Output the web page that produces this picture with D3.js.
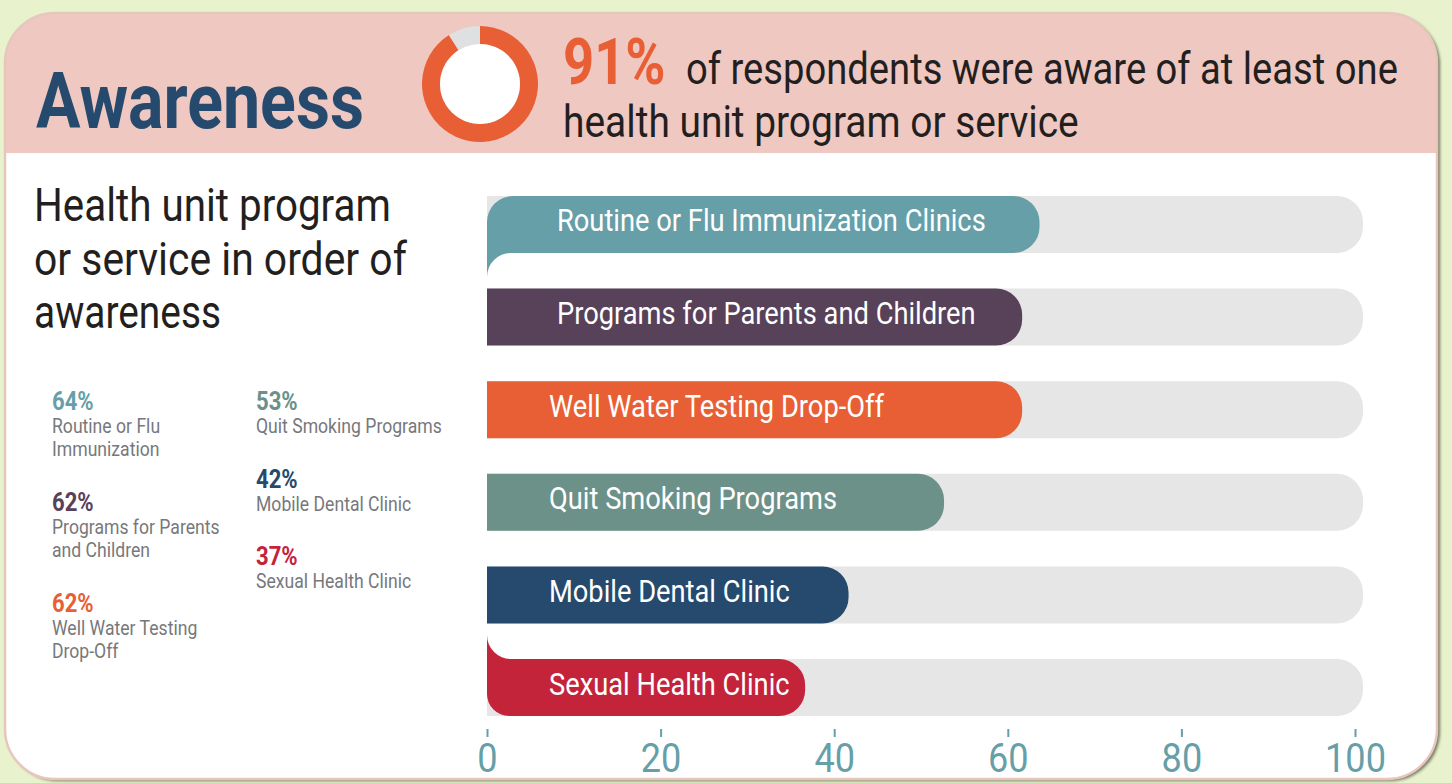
<!DOCTYPE html>
<html>
<head>
    <meta charset="utf-8">
    <title>Awareness</title>
    <script src="https://d3js.org/d3.v7.min.js"></script>
    <style>
        body { margin: 0; background: #e8f2cc; }
        svg { display: block; }
        text { font-family: Roboto, "Liberation Sans", sans-serif; }
    </style>
</head>
<body>
    <script>
        // chart data
        var categories = ["Routine or Flu Immunization Clinics", "Programs for Parents and Children",
            "Well Water Testing Drop-Off", "Quit Smoking Programs", "Mobile Dental Clinic", "Sexual Health Clinic"];
        var values = [64, 62, 62, 53, 42, 37];
        var colors = ["#669fa8", "#574259", "#e95f35", "#6b9188", "#264a6e", "#c4243a"];
        var legendLabels = [["Routine or Flu", "Immunization"], ["Programs for Parents", "and Children"],
            ["Well Water Testing", "Drop-Off"], ["Quit Smoking Programs"], ["Mobile Dental Clinic"], ["Sexual Health Clinic"]];
        var subtitleLines = ["Health unit program", "or service in order of", "awareness"];
        var headlineLines = ["of respondents were aware of at least one", "health unit program or service"];
        var tickValues = [0, 20, 40, 60, 80, 100];
        var awareShare = [91, 9];

        var W = 1452, H = 783;
        var svg = d3.select("body").append("svg")
            .attr("width", W)
            .attr("height", H);

        // the original uses a condensed face; squeeze Roboto horizontally instead
        function measure(str, size, weight) {
            var t = svg.append("text").attr("font-size", size).attr("font-weight", weight).text(str);
            var w = t.node().getComputedTextLength();
            t.remove();
            return w;
        }
        var kBold = 328 / measure("Awareness", 78, "bold");
        var kReg = 429 / measure(categories[0], 31, "normal");

        function squeeze(node, k) {
            var t = d3.select(node);
            var x0 = +t.attr("x") || 0, y0 = +t.attr("y") || 0;
            t.attr("x", null).attr("y", null)
                .attr("transform", "translate(" + x0 + "," + y0 + ") scale(" + k + ",1)");
        }
        function condense(sel, k) {
            sel.each(function() { squeeze(this, k); });
        }
        function fitTo(sel, widths) {
            sel.each(function(d, i) { squeeze(this, widths[i] / this.getComputedTextLength()); });
        }

        var defs = svg.append("defs");
        var shadow = defs.append("filter").attr("id", "shadow")
            .attr("x", "-5%").attr("y", "-5%").attr("width", "110%").attr("height", "110%");
        shadow.append("feDropShadow")
            .attr("dx", 3).attr("dy", 2).attr("stdDeviation", 1.5)
            .attr("flood-color", "#6b6b55").attr("flood-opacity", 0.9);

        defs.append("clipPath").attr("id", "cardClip")
            .append("rect")
            .attr("x", 5).attr("y", 13).attr("width", 1432).attr("height", 766).attr("rx", 50);

        // card
        svg.append("rect")
            .attr("x", 5).attr("y", 13).attr("width", 1432).attr("height", 766).attr("rx", 50)
            .attr("fill", "#fff")
            .attr("filter", "url(#shadow)");
        svg.append("rect")
            .attr("clip-path", "url(#cardClip)")
            .attr("x", 0).attr("y", 0).attr("width", W).attr("height", 153)
            .attr("fill", "#efc8c1");
        svg.append("rect")
            .attr("x", 5).attr("y", 13).attr("width", 1432).attr("height", 766).attr("rx", 50)
            .attr("fill", "none")
            .attr("stroke", "#e6c6bd")
            .attr("stroke-width", 2.5);

        // header
        svg.append("text")
            .attr("x", 36).attr("y", 128)
            .attr("font-size", 78)
            .attr("font-weight", "bold")
            .attr("fill", "#264a6e")
            .text("Awareness")
            .call(condense, kBold);

        var pie = d3.pie().sort(null).value(function(d) { return d; });
        var arc = d3.arc().innerRadius(40).outerRadius(58);
        svg.append("g")
            .attr("transform", "translate(480,84)")
            .selectAll("path")
            .data(pie(awareShare))
            .enter()
            .append("path")
            .attr("d", arc)
            .attr("fill", function(d, i) { return i === 0 ? "#e95f35" : "#dfe0e1"; });
        svg.append("circle").attr("cx", 480).attr("cy", 84).attr("r", 40).attr("fill", "#fff");

        svg.append("text")
            .attr("x", 563).attr("y", 84)
            .attr("font-size", 64)
            .attr("font-weight", "bold")
            .attr("fill", "#e95f35")
            .text(awareShare[0] + "%")
            .call(condense, kBold);
        svg.selectAll(".headline")
            .data(headlineLines)
            .enter()
            .append("text")
            .attr("class", "headline")
            .attr("x", function(d, i) { return i === 0 ? 686 : 563; })
            .attr("y", function(d, i) { return 84 + i * 53; })
            .attr("fill", "#231f20")
            .attr("font-size", 44)
            .text(function(d) { return d; })
            .call(fitTo, [712, 516]);

        // subtitle
        svg.selectAll(".subtitle")
            .data(subtitleLines)
            .enter()
            .append("text")
            .attr("class", "subtitle")
            .attr("x", 34)
            .attr("y", function(d, i) { return 221 + i * 53.5; })
            .attr("fill", "#231f20")
            .attr("font-size", 47)
            .text(function(d) { return d; })
            .call(fitTo, [357, 373, 187]);

        // legend
        var legend = svg.selectAll(".legend")
            .data(values)
            .enter()
            .append("g")
            .attr("class", "legend")
            .attr("transform", function(d, i) {
                return i < 3 ? "translate(52," + (410 + i * 101) + ")"
                             : "translate(256," + (410 + (i - 3) * 77.5) + ")";
            });
        legend.append("text")
            .attr("font-size", 26)
            .attr("font-weight", "bold")
            .attr("fill", function(d, i) { return colors[i]; })
            .text(function(d) { return d + "%"; })
            .call(condense, kBold);
        legend.each(function(d, i) {
            d3.select(this).selectAll(".lab")
                .data(legendLabels[i])
                .enter()
                .append("text")
                .attr("class", "lab")
                .attr("y", function(t, j) { return 23 + j * 23; })
                .attr("font-size", 20)
                .attr("fill", "#77787b")
                .text(function(t) { return t; })
                .call(condense, kReg);
        });

        // bars
        var x = d3.scaleLinear().domain([0, 100]).range([487, 1355]);
        var y = d3.scaleBand().domain(categories).range([196, 716]).paddingInner(0.385).paddingOuter(0);
        var r = 26;

        function roundedEnd(x0, x1, y0, y1) {
            return "M" + x0 + "," + y0 + "H" + (x1 - r) +
                "A" + r + "," + r + " 0 0 1 " + x1 + "," + (y0 + r) +
                "V" + (y1 - r) +
                "A" + r + "," + r + " 0 0 1 " + (x1 - r) + "," + y1 +
                "H" + x0 + "Z";
        }

        function barPath(d, i) {
            var x0 = x(0), x1 = x(d) - 3, y0 = y(categories[i]), y1 = y0 + y.bandwidth();
            var c = 24;
            if (i === 0) {
                // rounded top-left with tail below
                return "M" + x0 + "," + (y0 + r) +
                    "A" + r + "," + r + " 0 0 1 " + (x0 + r) + "," + y0 +
                    "H" + (x1 - r) +
                    "A" + r + "," + r + " 0 0 1 " + x1 + "," + (y0 + r) +
                    "V" + (y1 - r) +
                    "A" + r + "," + r + " 0 0 1 " + (x1 - r) + "," + y1 +
                    "H" + (x0 + c) +
                    "A" + c + "," + c + " 0 0 0 " + x0 + "," + (y1 + c) + "Z";
            }
            if (i === categories.length - 1) {
                // tail above with rounded bottom-left
                return "M" + x0 + "," + (y0 - c) +
                    "A" + c + "," + c + " 0 0 0 " + (x0 + c) + "," + y0 +
                    "H" + (x1 - r) +
                    "A" + r + "," + r + " 0 0 1 " + x1 + "," + (y0 + r) +
                    "V" + (y1 - r) +
                    "A" + r + "," + r + " 0 0 1 " + (x1 - r) + "," + y1 +
                    "H" + (x0 + 22) +
                    "A22,22 0 0 1 " + x0 + "," + (y1 - 22) + "Z";
            }
            return roundedEnd(x0, x1, y0, y1);
        }

        var bars = svg.append("g");
        bars.selectAll(".track")
            .data(categories)
            .enter()
            .append("path")
            .attr("class", "track")
            .attr("d", function(d) { return roundedEnd(x(0), x(100) + 8, y(d), y(d) + y.bandwidth()); })
            .attr("fill", "#e6e6e6");
        bars.selectAll(".bar")
            .data(values)
            .enter()
            .append("path")
            .attr("class", "bar")
            .attr("d", barPath)
            .attr("fill", function(d, i) { return colors[i]; });
        bars.selectAll(".label")
            .data(categories)
            .enter()
            .append("text")
            .attr("class", "label")
            .attr("x", function(d, i) { return x(0) + (i < 2 ? 70 : 62); })
            .attr("y", function(d) { return y(d) + y.bandwidth() / 2 + 7; })
            .attr("font-size", 31)
            .attr("fill", "#fff")
            .text(function(d) { return d; })
            .call(condense, kReg);

        // axis
        var axis = svg.append("g")
            .attr("transform", "translate(0,729)")
            .call(d3.axisBottom(x).tickValues(tickValues).tickSize(8).tickPadding(6));
        axis.select(".domain").remove();
        axis.selectAll("line").attr("stroke", "#669fa8").attr("stroke-width", 2);
        axis.selectAll("text")
            .attr("font-family", "Roboto, sans-serif")
            .attr("font-size", 41)
            .attr("fill", "#669fa8")
            .call(condense, kReg);
    </script>
</body>
</html>
